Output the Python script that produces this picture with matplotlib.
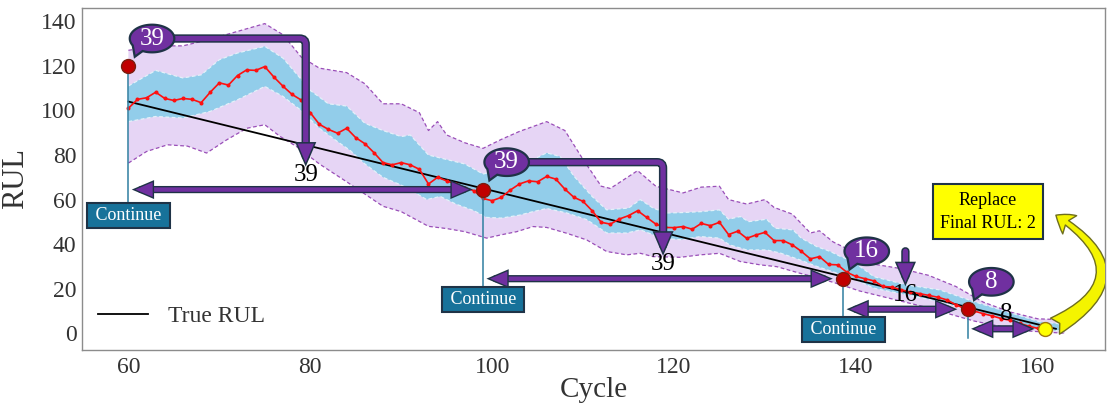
import numpy as np
import matplotlib
matplotlib.use("Agg")
import matplotlib.pyplot as plt
import matplotlib.patheffects as pe
from matplotlib.patches import FancyArrowPatch, Polygon

# ---------------------------------------------------------------- data
pred_cycles = list(range(60, 162))
pred_rul = [
    101.0, 105.0, 105.7, 108.2, 105.4, 104.5, 105.4, 105.0, 103.5, 108.2,
    112.4, 111.4, 115.7, 118.2, 118.0, 119.7, 115.0, 110.9, 107.2, 104.7,
    99.0, 93.8, 91.5, 89.8, 92.0, 87.8, 85.1, 81.1, 76.6, 75.6,
    76.6, 75.6, 73.6, 67.0, 70.0, 68.4, 67.0, 65.4, 64.0, 60.5,
    59.5, 61.0, 64.3, 67.0, 68.4, 68.0, 70.4, 69.2, 64.7, 61.0,
    59.2, 55.0, 49.8, 49.0, 51.3, 52.8, 55.0, 52.0, 49.0, 47.5,
    47.4, 47.9, 46.7, 49.3, 48.3, 49.8, 44.3, 45.8, 42.6, 44.1,
    45.3, 41.6, 41.6, 39.7, 36.8, 33.4, 34.4, 30.9, 30.7, 27.4,
    25.5, 24.5, 23.5, 21.0, 20.7, 19.5, 18.5, 17.8, 17.0, 16.2,
    15.0, 12.8, 11.0, 10.0, 8.8, 7.8, 6.6, 5.8, 4.5, 3.2,
    2.2, 1.5,
]

true_cycles = [60, 162]
true_rul = [104, 2]

# outer (wide) uncertainty band
outer_hi_cycles = [60, 63, 66, 69, 72, 75, 77, 79, 81, 84, 86, 88, 90, 92, 93, 94,
                   95, 97, 99, 101, 103, 106, 108, 110, 112, 113, 116, 118, 121,
                   123, 125, 126, 128, 130, 131, 133, 135, 136, 137.5, 139, 142,
                   145, 148, 151, 154, 157, 160, 163]
outer_hi = [127, 129, 129, 132, 135.5, 139, 134, 124, 119, 117, 112, 103, 103, 99,
            91, 95, 89, 85.5, 83, 87, 90.6, 95, 91, 78, 66, 65, 73, 66, 63, 65.6,
            66, 60, 58, 60, 56.5, 53.5, 45, 46, 41, 38, 31, 29, 26, 21, 14, 9.5,
            6.5, 6]
outer_lo_cycles = [60, 62, 64.3, 66.5, 68.6, 70.8, 73, 75, 76.7, 78.5, 81, 84, 86,
                   88, 90, 93, 95, 97, 99.4, 101, 102.7, 104.5, 106, 108.2, 110.4,
                   112.6, 114.8, 116.3, 117.7, 120.7, 122.9, 125, 127.3, 129.5,
                   131.3, 133.8, 136, 138.2, 140.4, 143.7, 147.4, 150, 153, 156,
                   159, 163]
outer_lo = [76.4, 81.6, 84.6, 84, 80.9, 86.8, 92, 93.6, 88.3, 83.8, 76, 68, 62.5,
            57, 54.6, 48, 47, 45.6, 42.7, 44.2, 45.6, 47.9, 47.5, 44.9, 41.9, 36.7,
            35.2, 35.9, 34.4, 34.1, 35.2, 35.9, 32.2, 30.7, 29.9, 27, 24.7, 22, 19,
            15.7, 12, 9, 5.5, 3, 1, 0]

# inner (narrow) uncertainty band
inner_hi_cycles = [60, 63, 66, 68, 70, 72, 75, 77, 79, 80, 82, 84, 86, 88, 90, 91,
                   93, 95, 97, 99, 101, 103, 104.5, 106, 107.5, 109, 111, 112.6,
                   115, 116.3, 117.7, 119.2, 121, 123, 125, 126, 127.3, 128.2,
                   130.2, 131.1, 133.1, 134, 135.7, 137.2, 138.2, 139.7, 142,
                   145.6, 149.2, 153, 156.6, 160.2, 163]
inner_hi = [111, 118, 114.6, 116, 122.8, 125.8, 128.8, 123.5, 114, 109, 103, 102,
            94.3, 91, 88.3, 89, 80, 78, 76, 71.5, 73.4, 75.6, 78, 81, 79.3, 70.5,
            61.4, 55.4, 56.2, 60, 56.2, 54, 54.2, 54.6, 55.4, 51.2, 52.4, 50.1,
            51.2, 47.2, 46.4, 42.7, 38.9, 36.7, 34.7, 32.2, 25.4, 21.7, 19.5,
            14.2, 9.7, 5.2, 4]
inner_lo_cycles = [60, 63, 66, 69, 72, 75, 77, 79, 81, 83, 84.4, 86, 88, 90, 91,
                   92.8, 94.3, 96, 98, 99.4, 101, 103, 104.5, 106, 108.2, 110.4,
                   112.6, 114.8, 116.3, 117.7, 118.5, 120.7, 122.9, 125, 126.1,
                   128, 130.2, 131.7, 133.8, 135.7, 137.9, 139.7, 142, 145.6,
                   149.2, 153, 156.6, 160.2, 163]
inner_lo = [95, 97.3, 96.6, 99.6, 104.8, 110.8, 106.3, 100, 92, 86, 82, 76, 70,
            66.5, 64.4, 60, 61.4, 58, 55, 52, 51.7, 53, 54.6, 56, 54, 51, 45, 45,
            46.4, 44.2, 42.7, 42, 43.4, 42.7, 39.7, 37.4, 37.4, 36, 33, 30, 27,
            24.5, 20.2, 17.2, 14.2, 9.7, 6, 1.5, 1]

# inspection stops and the interval chosen at each one
stop_cycles = [60, 99, 138.6, 152.3]
stop_rul = [120, 64.5, 24.5, 10.8]
next_interval = [39, 39, 16, 8]
final_cycle = 160.8
final_rul = 2

# ---------------------------------------------------------------- style
SERIF = ["Liberation Serif", "DejaVu Serif"]
plt.rcParams["font.family"] = SERIF
PURPLE = "#7030A0"
NAVY = "#1F3347"
TEAL = "#17729A"
LAVENDER = "#E6D5F5"
SKY = "#92CDEA"
TXT = "#333333"

fig = plt.figure(figsize=(11.07, 4.08), dpi=100)
ax = fig.add_axes([0.0741, 0.1422, 0.9241, 0.8382])
ax.set_xlim(54.9, 167.4)
ax.set_ylim(-7.5, 146)

for s in ax.spines.values():
    s.set_color("#8c8c8c")
    s.set_linewidth(1.0)
ax.set_xticks(range(60, 161, 20))
ax.set_yticks(range(0, 141, 20))
ax.tick_params(length=0, labelsize=17, labelcolor=TXT)
ax.tick_params(axis="x", pad=5)
ax.tick_params(axis="y", pad=4)
ax.set_xlabel("Cycle", fontsize=21, color=TXT, labelpad=-1)
ax.set_ylabel("RUL", fontsize=22, color=TXT, labelpad=8)

# uncertainty bands
ax.fill(np.r_[outer_hi_cycles, outer_lo_cycles[::-1]],
        np.r_[outer_hi, outer_lo[::-1]], color=LAVENDER, lw=0, zorder=1)
ax.fill(np.r_[inner_hi_cycles, inner_lo_cycles[::-1]],
        np.r_[inner_hi, inner_lo[::-1]], color=SKY, lw=0, zorder=2)
for cx, cy in [(outer_hi_cycles, outer_hi), (outer_lo_cycles, outer_lo)]:
    ax.plot(cx, cy, color="#9A4FB8", lw=0.9, ls=(0, (3, 2)), zorder=2.5)
for cx, cy in [(inner_hi_cycles, inner_hi), (inner_lo_cycles, inner_lo)]:
    ax.plot(cx, cy, color="#E4F1F9", lw=0.9, ls=(0, (3, 2)), zorder=2.5)

# true and predicted RUL
ax.plot(true_cycles, true_rul, color="black", lw=1.3, zorder=3, label="True RUL")
ax.plot(pred_cycles, pred_rul, color="#FF1010", lw=1.2, marker="o",
        markersize=1.9, zorder=4)

# stop markers with drop lines and "Continue" tags
drop_bottom = [53, 15.2, 1.7, -2.2]
for i, (c, r) in enumerate(zip(stop_cycles, stop_rul)):
    ax.plot([c, c], [r, drop_bottom[i]], color="#2F7FA0", lw=1.1, zorder=5)
    if i < 3:
        ax.text(c, drop_bottom[i], " Continue ", ha="center", va="center",
                fontsize=13, color="white", zorder=9,
                bbox=dict(boxstyle="square,pad=0.22", fc=TEAL, ec=NAVY, lw=1.5))

# horizontal interval arrows between consecutive stops
seq_c = stop_cycles + [final_cycle]
seq_r = stop_rul + [final_rul]
thin_outline = [pe.Stroke(linewidth=5.2, foreground=NAVY), pe.Normal()]
for i in range(4):
    y = seq_r[i + 1]
    arr = FancyArrowPatch((seq_c[i], y), (seq_c[i + 1], y),
                          arrowstyle="<|-|>,head_length=0.4,head_width=0.17",
                          mutation_scale=17, lw=3.2, color=PURPLE,
                          shrinkA=5, shrinkB=10, zorder=6, joinstyle="miter")
    arr.set_path_effects(thin_outline)
    ax.add_patch(arr)
    xm = (seq_c[i] + seq_c[i + 1]) / 2
    ax.text(xm, y + 6.5, str(next_interval[i]), ha="center", va="center",
            fontsize=18, color="black", zorder=9)

ax.plot(stop_cycles, stop_rul, ls="none", marker="o", markersize=10,
        mfc="#C00000", mec="#7A1E10", mew=1.0, zorder=7)
ax.plot([final_cycle], [final_rul], ls="none", marker="o", markersize=10,
        mfc="#FFFF00", mec="#A07810", mew=1.0, zorder=7)

# speech bubbles with the chosen interval
BDX, BDY = 2.6, 12.3
RX, RY = 2.45, 6.2


def bubble(cx, cy, label):
    t = np.deg2rad(np.linspace(245, 245 + 325, 120))
    xs = list(cx + RX * np.cos(t))
    ys = list(cy + RY * np.sin(t))
    xs.append(cx - 1.9)
    ys.append(cy - 8.2)
    ax.add_patch(Polygon(np.c_[xs, ys], closed=True, fc=PURPLE, ec=NAVY,
                         lw=1.6, zorder=8.5))
    ax.text(cx, cy, label, ha="center", va="center", fontsize=18,
            color="white", zorder=9)


bracket_outline = [pe.Stroke(linewidth=6.0, foreground=NAVY), pe.Normal()]
arrow_kind = ["elbow", "elbow", "down", None]
for i in range(4):
    bx, by = stop_cycles[i] + BDX, stop_rul[i] + BDY
    xm = (seq_c[i] + seq_c[i + 1]) / 2
    tip = seq_r[i + 1] + 12.0
    if arrow_kind[i] is not None:
        start = (bx + RX, by) if arrow_kind[i] == "elbow" else (xm, by)
        conn = ("angle,angleA=0,angleB=90,rad=6" if arrow_kind[i] == "elbow"
                else "arc3,rad=0")
        a = FancyArrowPatch(start, (xm, tip), connectionstyle=conn,
                            arrowstyle="-|>,head_length=0.42,head_width=0.18",
                            mutation_scale=17, lw=3.8, color=PURPLE,
                            shrinkA=0, shrinkB=0, zorder=8, joinstyle="miter")
        a.set_path_effects(bracket_outline)
        ax.add_patch(a)
    bubble(bx, by, str(next_interval[i]))

# replacement decision
ax.text(154.5, 54.5, "Replace\nFinal RUL: %d" % final_rul, ha="center",
        va="center", fontsize=13, color="black", zorder=9, linespacing=1.5,
        bbox=dict(boxstyle="square,pad=0.4", fc="#FFFF00", ec=NAVY, lw=1.5))
curve = FancyArrowPatch((final_cycle + 0.7, final_rul + 0.3), (162.0, 53.0),
                        connectionstyle="arc3,rad=0.85",
                        arrowstyle="fancy,head_length=0.55,head_width=0.75,tail_width=0.6",
                        mutation_scale=22, fc="#F4F400", ec="#6E6E1E", lw=1.0,
                        shrinkA=3, shrinkB=0, zorder=8)
ax.add_patch(curve)

leg = ax.legend(loc="lower left", bbox_to_anchor=(0.0, 0.02), frameon=False,
                fontsize=17, handlelength=2.1, handletextpad=0.85,
                borderpad=0.68, borderaxespad=0)
for t in leg.get_texts():
    t.set_color(TXT)

fig.savefig("out.png", dpi=100)
